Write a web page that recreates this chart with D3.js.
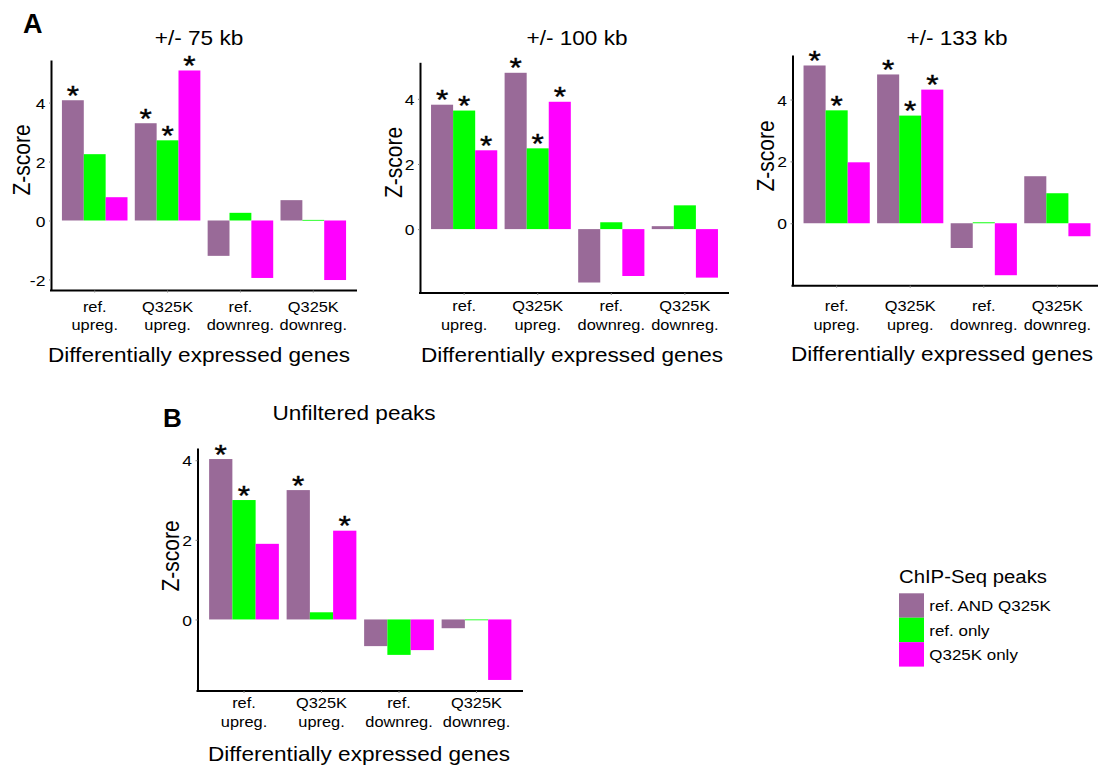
<!DOCTYPE html>
<html lang="en">
<head>
    <meta charset="UTF-8">
    <script src="https://cdn.jsdelivr.net/npm/d3@7"></script>
    <style>
        body { margin: 0; background: #fff; }
        text { font-family: "Liberation Sans", Arial, Helvetica, sans-serif; fill: #000; }
    </style>
</head>
<body>
<div id="fig"></div>
<script>

    // categories / tick labels
    const groupLabels = [["ref.", "upreg."], ["Q325K", "upreg."], ["ref.", "downreg."], ["Q325K", "downreg."]];
    const seriesNames = ["ref. AND Q325K", "ref. only", "Q325K only"];
    const seriesColors = ["#996a98", "#00ff00", "#ff00ff"];

    // +/- 75 kb
    const kb75Both = [4.08, 3.30, -1.20, 0.69];
    const kb75RefOnly = [2.25, 2.72, 0.26, 0.02];
    const kb75QOnly = [0.79, 5.09, -1.95, -2.02];
    const kb75Stars = [[1, 1, 0, 0], [0, 1, 0, 0], [0, 1, 0, 0]];
    const kb75Ticks = [-2, 0, 2, 4];

    // +/- 100 kb
    const kb100Both = [3.82, 4.80, -1.64, 0.09];
    const kb100RefOnly = [3.64, 2.48, 0.21, 0.73];
    const kb100QOnly = [2.42, 3.91, -1.44, -1.49];
    const kb100Stars = [[1, 1, 0, 0], [1, 1, 0, 0], [1, 1, 0, 0]];
    const kb100Ticks = [0, 2, 4];

    // +/- 133 kb
    const kb133Both = [5.10, 4.81, -0.80, 1.52];
    const kb133RefOnly = [3.65, 3.48, 0.03, 0.97];
    const kb133QOnly = [1.97, 4.32, -1.68, -0.42];
    const kb133Stars = [[1, 1, 0, 0], [1, 1, 0, 0], [0, 1, 0, 0]];
    const kb133Ticks = [0, 2, 4];

    // unfiltered peaks
    const unfBoth = [4.03, 3.25, -0.67, -0.22];
    const unfRefOnly = [3.00, 0.18, -0.89, -0.02];
    const unfQOnly = [1.90, 2.23, -0.77, -1.52];
    const unfStars = [[1, 1, 0, 0], [1, 0, 0, 0], [0, 1, 0, 0]];
    const unfTicks = [0, 2, 4];

    const width = 1098, height = 767;
    const sx = 1.13; // text in the original is a bit wider than Arial

    const svg = d3.select("#fig")
        .append("svg")
        .attr("width", width)
        .attr("height", height);

    function label(sel, x, y, str, size, anchor) {
        return sel.append("text")
            .attr("transform", `translate(${x},${y}) scale(${sx},1)`)
            .attr("text-anchor", anchor || "middle")
            .attr("font-size", size)
            .text(str);
    }

    const panels = [
        {title: "+/- 75 kb", values: [kb75Both, kb75RefOnly, kb75QOnly], stars: kb75Stars, ticks: kb75Ticks,
            x0: 51, x1: 357, y0: 60, y1: 290.5, titleX: 199, titleY: 45, xlabX: 199, ylabX: 29.5, ylabY: 160,
            tickY: [311.5, 329.5], xlabY: 361.7},
        {title: "+/- 100 kb", values: [kb100Both, kb100RefOnly, kb100QOnly], stars: kb100Stars, ticks: kb100Ticks,
            x0: 420, x1: 729, y0: 62.3, y1: 293, titleX: 577, titleY: 45, xlabX: 572, ylabX: 401.5, ylabY: 162.5,
            tickY: [311, 329.5], xlabY: 361.7},
        {title: "+/- 133 kb", values: [kb133Both, kb133RefOnly, kb133QOnly], stars: kb133Stars, ticks: kb133Ticks,
            x0: 792.5, x1: 1101.5, y0: 55, y1: 285.7, titleX: 957, titleY: 45, xlabX: 942, ylabX: 773.5, ylabY: 156,
            tickY: [311, 329.5], xlabY: 361},
        {title: "Unfiltered peaks", values: [unfBoth, unfRefOnly, unfQOnly], stars: unfStars, ticks: unfTicks,
            x0: 197.5, x1: 523, y0: 448, y1: 691, titleX: 354, titleY: 420, xlabX: 359, ylabX: 178.5, ylabY: 556,
            tickY: [708.3, 727.3], xlabY: 760.7}
    ];

    panels.forEach(p => {
        const g = svg.append("g");

        const x = d3.scaleBand()
            .domain(d3.range(groupLabels.length))
            .range([p.x0, p.x1])
            .paddingInner(0.1)
            .paddingOuter(0.15);
        const xs = d3.scaleBand()
            .domain(d3.range(seriesNames.length))
            .range([0, x.bandwidth()]);

        const all = p.values.flat();
        const lo = d3.min(all), hi = d3.max(all), pad = (hi - lo) * 0.05;
        const y = d3.scaleLinear()
            .domain([lo - pad, hi + pad])
            .range([p.y1, p.y0]);

        const cells = [];
        p.values.forEach((vals, s) => vals.forEach((v, i) => cells.push({s, i, v, star: p.stars[s][i]})));

        g.selectAll(".bar")
            .data(cells)
            .enter()
            .append("rect")
            .attr("class", "bar")
            .attr("x", d => x(d.i) + xs(d.s))
            .attr("width", xs.bandwidth())
            .attr("y", d => Math.min(y(d.v), y(0)))
            .attr("height", d => Math.max(Math.abs(y(d.v) - y(0)), 0.8))
            .attr("fill", d => seriesColors[d.s]);

        g.selectAll(".star")
            .data(cells.filter(d => d.star))
            .enter()
            .append("text")
            .attr("class", "star")
            .attr("transform", d => `translate(${x(d.i) + xs(d.s) + xs.bandwidth() / 2},${y(d.v) + 4.5}) scale(${sx},1)`)
            .attr("text-anchor", "middle")
            .attr("font-size", 28)
            .attr("stroke", "#000")
            .attr("stroke-width", 0.4)
            .text("*");

        // axes
        const yAxis = g.append("g")
            .attr("transform", `translate(${p.x0},0)`)
            .call(d3.axisLeft(y).tickValues(p.ticks).tickSize(2).tickSizeOuter(0).tickPadding(3)
                .tickFormat(d => String(d)));
        yAxis.select(".domain").attr("stroke", "#000").attr("stroke-width", 2);
        yAxis.selectAll(".tick line").attr("stroke", "#888");
        yAxis.selectAll(".tick text")
            .attr("font-size", 15.5)
            .attr("fill", "#222")
            .attr("dy", "0.36em")
            .attr("transform", `scale(${sx},1)`);

        const xAxis = g.append("g")
            .attr("transform", `translate(0,${p.y1})`)
            .call(d3.axisBottom(x).tickSize(2).tickSizeOuter(0).tickFormat(""));
        xAxis.select(".domain").attr("stroke", "#000").attr("stroke-width", 2)
            .attr("d", `M${p.x0 - 1},0H${p.x1}`);
        xAxis.selectAll(".tick line").attr("stroke", "#888");

        groupLabels.forEach((lines, i) => {
            lines.forEach((t, k) => label(g, x(i) + x.bandwidth() / 2, p.tickY[k], t, 14.5).attr("fill", "#222"));
        });

        label(g, p.titleX, p.titleY, p.title, 20);
        label(g, p.xlabX, p.xlabY, "Differentially expressed genes", 20);

        g.append("text")
            .attr("transform", `translate(${p.ylabX},${p.ylabY}) rotate(-90) scale(1,${sx})`)
            .attr("text-anchor", "middle")
            .attr("font-size", 21)
            .text("Z-score");
    });

    // panel letters
    svg.append("text").attr("x", 23).attr("y", 33.3).attr("font-size", 27).attr("font-weight", "bold").text("A");
    svg.append("text").attr("x", 163).attr("y", 426.7).attr("font-size", 26).attr("font-weight", "bold").text("B");

    // legend
    const legend = svg.append("g").attr("transform", "translate(899,593.3)");
    label(legend, 0, -10, "ChIP-Seq peaks", 18, "start");
    const key = d3.scaleBand().domain(d3.range(seriesNames.length)).range([0, 73.3]);
    legend.selectAll(".key")
        .data(seriesNames)
        .enter()
        .append("rect")
        .attr("class", "key")
        .attr("x", 0)
        .attr("y", (d, i) => key(i))
        .attr("width", 25)
        .attr("height", key.bandwidth())
        .attr("fill", (d, i) => seriesColors[i]);
    seriesNames.forEach((n, i) => label(legend, 30.3, key(i) + key.bandwidth() / 2 + 5.8, n, 15, "start"));

</script>
</body>
</html>
